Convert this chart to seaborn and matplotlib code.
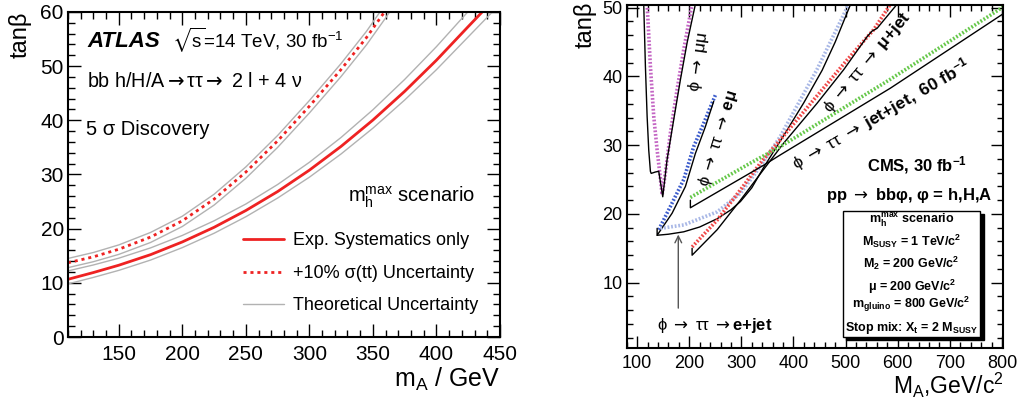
import matplotlib
matplotlib.use("Agg")
import matplotlib.pyplot as plt
from matplotlib.ticker import MultipleLocator
from matplotlib.patches import Rectangle
import seaborn as sns

# ---------------- left panel (ATLAS) data ----------------
atlas_exp_x = [110, 130, 150, 175, 200, 225, 250, 275, 300, 325, 350, 375, 400, 425, 436]
atlas_exp_y = [10.65, 11.9, 13.25, 15.2, 17.55, 20.25, 23.35, 26.85, 30.8, 35.2, 40.05, 45.35, 51.1, 57.3, 60.0]
atlas_exp_hi_x = [110, 130, 150, 175, 200, 225, 250, 275, 300, 325, 350, 375, 400, 425]
atlas_exp_hi_y = [12.2, 13.3, 14.55, 16.45, 18.75, 21.45, 24.55, 28.15, 32.25, 36.85, 41.95, 47.55, 53.6, 60.1]
atlas_exp_lo_x = [110, 130, 150, 175, 200, 225, 250, 275, 300, 325, 350, 375, 400, 425, 444]
atlas_exp_lo_y = [9.8, 11.0, 12.3, 14.2, 16.5, 19.15, 22.2, 25.65, 29.5, 33.8, 38.55, 43.75, 49.35, 55.4, 60.0]
atlas_tt_x = [110, 130, 150, 175, 200, 225, 250, 275, 300, 325, 345, 360]
atlas_tt_y = [13.7, 14.8, 16.2, 18.45, 21.45, 25.45, 30.45, 36.2, 42.6, 49.4, 55.3, 60.3]
atlas_tt_hi_x = [110, 130, 150, 175, 200, 225, 250, 275, 300, 325, 345, 360]
atlas_tt_hi_y = [14.5, 15.6, 17.0, 19.3, 22.3, 26.35, 31.4, 37.2, 43.65, 50.5, 56.45, 61.5]
atlas_tt_lo_x = [110, 130, 150, 175, 200, 225, 250, 275, 300, 325, 345, 360, 364]
atlas_tt_lo_y = [12.8, 13.9, 15.25, 17.45, 20.4, 24.35, 29.3, 35.0, 41.35, 48.1, 53.95, 58.9, 60.3]
atlas_labels = ["Exp. Systematics only", "+10% σ(tt) Uncertainty", "Theoretical Uncertainty"]

# ---------------- right panel (CMS) data ----------------
mumu_x = [112.7, 115.9, 119.2, 122.3, 125.5, 127.0, 135.0, 141.5, 149.2, 157.5, 170.2, 183.0, 195.9, 211.8]
mumu_y = [50.5, 41.5, 34.2, 29.3, 26.2, 25.9, 26.1, 26.2, 22.5, 27.9, 33.7, 39.5, 44.9, 50.5]
mumu_dot_x = [119.2, 125.5, 131.9, 138.4, 143.4, 148.0, 154.3, 163.9, 176.7, 189.4, 205.5]
mumu_dot_y = [50.5, 41.5, 34.2, 29.3, 26.0, 22.8, 26.0, 31.8, 38.1, 43.9, 50.5]
emu_x = [138.4, 138.4, 167.1, 192.7, 211.8, 231.0, 247.0]
emu_y = [17.9, 16.9, 20.1, 24.0, 28.8, 32.7, 36.4]
emu_dot_x = [141.5, 163.9, 189.4, 208.6, 227.8, 250.2]
emu_dot_y = [17.7, 21.1, 25.0, 29.8, 33.2, 37.3]
ejet_x = [138.4, 160.0, 189.4, 220.0, 253.5, 280.0, 298.2, 320.0, 343.0, 378.0, 420.0, 455.0, 480.0, 509.6]
ejet_y = [16.9, 17.05, 17.4, 18.1, 19.3, 20.6, 21.8, 23.8, 26.8, 31.0, 36.2, 40.9, 45.0, 50.5]
ejet_dot_x = [144.7, 189.4, 253.5, 298.2, 336.5, 374.9, 445.0, 506.0]
ejet_dot_y = [17.9, 18.4, 20.3, 23.0, 26.9, 31.3, 41.0, 50.5]
mujet_x = [205.5, 205.5, 253.5, 298.2, 343.0, 381.2, 445.3, 496.5, 541.4, 550.8, 560.4, 598.7]
mujet_y = [15.0, 14.0, 17.7, 22.0, 26.5, 30.3, 36.1, 41.0, 45.8, 46.6, 47.0, 50.5]
mujet_dot_x = [205.5, 253.5, 298.2, 336.5, 374.9, 438.8, 502.8, 553.9, 586.0]
mujet_dot_y = [15.2, 19.1, 23.5, 27.4, 30.8, 36.6, 42.4, 46.8, 50.5]
jetjet_x = [202.2, 202.2, 343.0, 375.0, 586.0, 802.0]
jetjet_y = [22.0, 20.9, 27.1, 28.6, 38.3, 49.1]
jetjet_dot_x = [202.2, 317.4, 375.0, 586.0, 802.0]
jetjet_dot_y = [22.4, 27.4, 29.8, 39.6, 50.1]
box_lines = [
    (r"m$_{\mathbf{h}}^{\mathbf{max}}$ scenario", 18.65),
    (r"M$_{\mathbf{SUSY}}$ = 1 TeV/c$^{\mathbf{2}}$", 15.3),
    (r"M$_{\mathbf{2}}$ = 200 GeV/c$^{\mathbf{2}}$", 12.1),
    (r"μ = 200 GeV/c$^{\mathbf{2}}$", 8.8),
    (r"m$_{\mathbf{gluino}}$ = 800 GeV/c$^{\mathbf{2}}$", 6.3),
    (r"Stop mix: X$_{\mathbf{t}}$ = 2 M$_{\mathbf{SUSY}}$", 3.0),
]

sns.set_theme(style="ticks")
plt.rcParams["font.family"] = ["Liberation Sans", "DejaVu Sans"]
plt.rcParams.update({
    "mathtext.fontset": "custom",
    "mathtext.rm": "Liberation Sans",
    "mathtext.it": "Liberation Sans:italic",
    "mathtext.bf": "Liberation Sans:bold",
    "mathtext.sf": "DejaVu Sans",
    "mathtext.default": "regular",
    "mathtext.fallback": "stixsans",
    "axes.linewidth": 1.5,
    "axes.edgecolor": "black",
    "xtick.color": "black",
    "ytick.color": "black",
    "text.color": "black",
    "axes.labelcolor": "black",
})

AR = r"\mathsf{\rightarrow}"
SAR = r"\ " + AR + r"\ "

fig = plt.figure(figsize=(10.22, 4.01), dpi=100)
axL = fig.add_axes([0.0665, 0.1596, 0.4227, 0.8105])
axR = fig.add_axes([0.6132, 0.1322, 0.3682, 0.8554])


def draw(ax, xs, ys, **kw):
    sns.lineplot(x=xs, y=ys, ax=ax, sort=False, estimator=None, **kw)


RED = "#ee2222"
GRAY = "#b2b2b2"
# --- left ---
draw(axL, atlas_exp_hi_x, atlas_exp_hi_y, color=GRAY, lw=1.0, label=atlas_labels[2])
draw(axL, atlas_exp_lo_x, atlas_exp_lo_y, color=GRAY, lw=1.0)
draw(axL, atlas_tt_hi_x, atlas_tt_hi_y, color=GRAY, lw=1.0)
draw(axL, atlas_tt_lo_x, atlas_tt_lo_y, color=GRAY, lw=1.0)
draw(axL, atlas_exp_x, atlas_exp_y, color=RED, lw=2.0, label=atlas_labels[0])
draw(axL, atlas_tt_x, atlas_tt_y, color=RED, lw=2.0, linestyle=(0, (1.1, 1.4)), label=atlas_labels[1])

axL.set_xlim(110, 450)
axL.set_ylim(0, 60)
axL.xaxis.set_major_locator(MultipleLocator(50))
axL.xaxis.set_minor_locator(MultipleLocator(10))
axL.yaxis.set_major_locator(MultipleLocator(10))
axL.yaxis.set_minor_locator(MultipleLocator(2))
axL.tick_params(which="both", direction="in", top=True, right=True, width=1.0, labelsize=15)
axL.tick_params(which="major", length=9.5)
axL.tick_params(which="minor", length=5)
axL.tick_params(axis="x", pad=5.5)
axL.tick_params(axis="y", pad=3)
for s in axL.spines.values():
    s.set_linewidth(1.5)

axL.set_xlabel(r"m$_A$ / GeV", fontsize=18, loc="right")
axL.xaxis.set_label_coords(1.0, -0.153)
axL.xaxis.label.set_va("baseline")
axL.set_ylabel("tanβ", fontsize=17, loc="top")
axL.yaxis.set_label_coords(-0.085, 1.0)

hd, lb = axL.get_legend_handles_labels()
order = [lb.index(t) for t in atlas_labels]
axL.legend([hd[i] for i in order], [lb[i] for i in order], loc="upper left",
           bbox_to_anchor=(0.405, 0.322), frameon=False, fontsize=13,
           handlelength=2.3, handletextpad=0.45, labelspacing=0.86,
           borderpad=0, borderaxespad=0)

tL = axL.transAxes
axL.text(0.044, 0.893, "ATLAS", transform=tL, fontsize=16, fontweight="bold",
         fontstyle="italic", va="baseline")
axL.text(0.241, 0.893, r"$\sqrt{s}$=14 TeV, 30 fb$^{-1}$", transform=tL,
         fontsize=13.5, va="baseline")
axL.text(0.044, 0.768, r"bb h/H/A$" + AR + r"\tau\tau" + AR + r"$ 2 l + 4 ν",
         transform=tL, fontsize=14.2, va="baseline")
axL.text(0.042, 0.6215, "5 σ Discovery", transform=tL, fontsize=14.5, va="baseline")
axL.text(0.648, 0.416, r"m$_h^{max}$ scenario", transform=tL, fontsize=14.5, va="baseline")

# --- right ---
DOT = (0, (0.5, 0.5))
draw(axR, mumu_dot_x, mumu_dot_y, color="#c466c4", lw=2.6, linestyle=DOT)
draw(axR, mumu_x, mumu_y, color="black", lw=1.0)
draw(axR, emu_dot_x, emu_dot_y, color="#3c5ccc", lw=2.6, linestyle=DOT)
draw(axR, emu_x, emu_y, color="black", lw=1.0)
draw(axR, ejet_dot_x, ejet_dot_y, color="#a9b8e6", lw=2.6, linestyle=DOT)
draw(axR, ejet_x, ejet_y, color="black", lw=1.0)
draw(axR, mujet_dot_x, mujet_dot_y, color="#f04848", lw=2.6, linestyle=DOT)
draw(axR, mujet_x, mujet_y, color="black", lw=1.0)
draw(axR, jetjet_dot_x, jetjet_dot_y, color="#66c84a", lw=2.6, linestyle=DOT)
draw(axR, jetjet_x, jetjet_y, color="black", lw=1.0)

axR.set_xlim(80, 802)
axR.set_ylim(0.5, 50.4)
axR.xaxis.set_major_locator(MultipleLocator(100))
axR.xaxis.set_minor_locator(MultipleLocator(20))
axR.yaxis.set_major_locator(MultipleLocator(10))
axR.yaxis.set_minor_locator(MultipleLocator(2))
axR.tick_params(which="both", direction="in", top=True, right=True, width=1.0, labelsize=13)
axR.tick_params(which="major", length=8.5)
axR.tick_params(which="minor", length=4.3)
axR.tick_params(axis="x", pad=5)
axR.tick_params(axis="y", pad=3)
for s in axR.spines.values():
    s.set_linewidth(1.5)

axR.set_xlabel(r"M$_A$,GeV/c$^2$", fontsize=16.5, loc="right")
axR.xaxis.set_label_coords(1.002, -0.133)
axR.xaxis.label.set_va("baseline")
axR.set_ylabel("tanβ", fontsize=17, loc="top")
axR.yaxis.set_label_coords(-0.079, 1.009)

axR.annotate("", xy=(179, 17.0), xytext=(179, 6.3),
             arrowprops=dict(arrowstyle="->", color="#555555", lw=1.0,
                             shrinkA=0, shrinkB=0, mutation_scale=12))

rk = dict(ha="center", va="center", rotation_mode="anchor")
axR.text(219, 42.2, r"$\phi" + SAR + r"\mu\mu$", rotation=82, fontsize=12.5, **rk)
axR.text(257, 31.0, r"$\phi" + SAR + r"\tau\tau" + SAR + r"\mathbf{e\mu}$", rotation=73,
         fontsize=12, **rk)
axR.text(542, 42.0, r"$\phi" + SAR + r"\tau\tau" + SAR + r"\mathbf{\mu{+}jet}$", rotation=50,
         fontsize=12.5, **rk)
axR.text(568, 34.5, r"$\phi" + SAR + r"\tau\tau" + SAR +
         r"\mathbf{jet{+}jet,\ 60\ fb}^{\mathbf{-1}}$",
         rotation=30, fontsize=12.5, **rk)
axR.text(138.4, 3.1, r"$\phi" + SAR + r"\tau\tau\ " + AR + r"\mathbf{e{+}jet}$",
         fontsize=12, ha="left", va="baseline")

axR.text(733, 26.2, r"CMS, 30 fb$^{\mathbf{-1}}$", fontsize=12, fontweight="bold",
         ha="right", va="baseline")
axR.text(781, 22.0, r"pp $" + AR + r"$ bbφ, φ = h,H,A", fontsize=12, fontweight="bold",
         ha="right", va="baseline")

axR.add_patch(Rectangle((495.2 + 6.4, 2.14 - 0.49), 263.3, 18.36, facecolor="black",
                        edgecolor="black", lw=1.0, zorder=3))
axR.add_patch(Rectangle((495.2, 2.14), 263.3, 18.36, facecolor="white",
                        edgecolor="black", lw=1.0, zorder=4))
for txt, yb in box_lines:
    axR.text(626.8, yb, txt, fontsize=9, fontweight="bold", ha="center",
             va="baseline", zorder=5)

fig.savefig("out.png", dpi=100)
